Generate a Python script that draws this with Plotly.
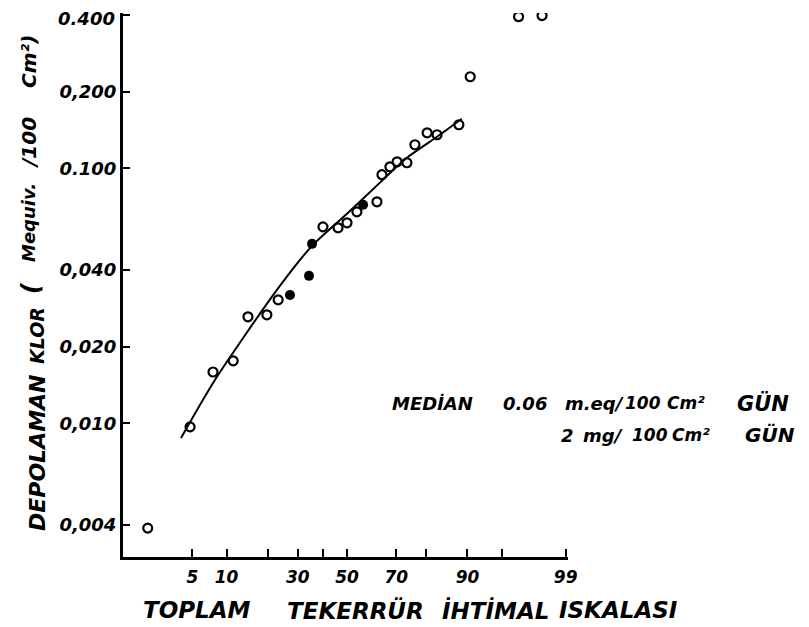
import plotly.graph_objects as go
from statistics import NormalDist

# ---- data (cumulative probability %, deposited chlorine meq/100 cm2) ----
open_p = [1.7, 4.75, 7.7, 11.3, 14.6, 19.7, 23.2, 39.9, 46.2, 50.0, 54.2, 62.5,
          64.5, 67.6, 70.3, 73.8, 76.5, 80.3, 83.1, 88.3, 90.5, 96.6, 98.1]
open_y = [0.00388, 0.00968, 0.0159, 0.01758, 0.02617, 0.02665, 0.0305, 0.059,
          0.0585, 0.0612, 0.0676, 0.074, 0.0945, 0.1015, 0.1062, 0.1053, 0.1239,
          0.138, 0.1356, 0.1484, 0.229, 0.394, 0.398]
filled_p = [27.2, 34.3, 35.5, 56.8]
filled_y = [0.0319, 0.0379, 0.0506, 0.0720]
fit_p = [3.87, 8.0, 22.8, 35.5, 50.0, 63.7, 73.8, 83.1, 88.9]
fit_y = [0.00876, 0.0148, 0.0334, 0.0497, 0.0664, 0.088, 0.1101, 0.1331, 0.1567]

x_tick_p = [5, 10, 20, 30, 40, 50, 70, 80, 90, 95, 99]
x_tick_text = ["5", "10", "", "30", "", "50", "70", "", "90", "", "99"]
y_tick_vals = [0.004, 0.01, 0.02, 0.04, 0.1, 0.2, 0.4]
y_tick_text = ["0,004", "0,010", "0,020", "0,040", "0.100", "0,200", ""]
top_tick_label = "0.400"

nd = NormalDist()
def probit(p):
    return nd.inv_cdf(p / 100.0)

FONT = dict(family="DejaVu Sans", color="black", weight="bold", style="italic")

# page offset (body margin) and plot-area geometry in window pixels
OFF = 8
W, H = 809 - OFF, 627 - OFF
L, R, T, B = 123, 568, 13, 557
def px(xpix):
    return (xpix - L) / (R - L)
def py(ypix):
    return (B - ypix) / (B - T)

fig = go.Figure()
fig.add_trace(go.Scatter(
    x=[probit(p) for p in fit_p], y=fit_y, mode="lines",
    line=dict(color="black", width=2, shape="spline", smoothing=0.7),
    hoverinfo="skip", showlegend=False))
fig.add_trace(go.Scatter(
    x=[probit(p) for p in open_p], y=open_y, mode="markers",
    marker=dict(symbol="circle-open", size=9, color="black", line=dict(width=2.2)),
    showlegend=False))
fig.add_trace(go.Scatter(
    x=[probit(p) for p in filled_p], y=filled_y, mode="markers",
    marker=dict(symbol="circle", size=10, color="black"),
    showlegend=False))

fig.update_xaxes(
    range=[-2.383, 2.351], showgrid=False, zeroline=False,
    showline=True, linecolor="black", linewidth=3,
    tickmode="array", tickvals=[probit(p) for p in x_tick_p], ticktext=x_tick_text,
    ticks="inside", ticklen=8, tickwidth=2, tickcolor="black",
    ticklabelstandoff=3, ticklabeloverflow="allow",
    tickfont=dict(size=17, **FONT))
fig.update_yaxes(
    type="log", range=[-2.5246, -0.39], showgrid=False, zeroline=False,
    showline=True, linecolor="black", linewidth=3,
    tickmode="array", tickvals=y_tick_vals, ticktext=y_tick_text,
    ticks="inside", ticklen=7, tickwidth=2, tickcolor="black",
    ticklabeloverflow="allow",
    tickfont=dict(size=18, **FONT))

# top y tick label (kept inside the page)
fig.add_annotation(text=top_tick_label, x=px(117), y=py(19), xanchor="right",
                   font=dict(size=18, **FONT))

# x-axis title words (text, center-x px), y=610
for txt, cx in [("TOPLAM", 197), ("TEKERRÜR", 355), ("İHTİMAL", 495), ("ISKALASI", 618)]:
    fig.add_annotation(text=txt, x=px(cx), y=py(610), xanchor="center",
                       font=dict(size=23, **FONT))

# y-axis title words (text, center-y px, center-x px, size)
for txt, cy, cx, sz in [("DEPOLAMAN", 453, 37, 22), ("KLOR", 336, 37, 19),
                        ("(", 288, 31, 24), ("Mequiv.", 223, 29, 18),
                        ("/100", 143, 29, 20), ("Cm²)", 62, 29, 20)]:
    fig.add_annotation(text=txt, x=px(cx), y=py(cy), textangle=-90,
                       xanchor="center", font=dict(size=sz, **FONT))

# median note
for txt, cx, cy, sz in [("MEDİAN", 432, 403, 18), ("0.06", 525, 403, 18),
                        ("m.eq/", 594, 403, 18), ("100", 643, 403, 17),
                        ("Cm²", 686, 403, 17), ("GÜN", 763, 403, 21),
                        ("2", 567, 435, 18), ("mg/", 603, 435, 18),
                        ("100", 650, 435, 17), ("Cm²", 691, 435, 17),
                        ("GÜN", 770, 435, 20)]:
    fig.add_annotation(text=txt, x=px(cx), y=py(cy), xanchor="center",
                       font=dict(size=sz, **FONT))

fig.update_annotations(xref="paper", yref="paper", showarrow=False,
                       yanchor="middle")

fig.update_layout(
    width=W, height=H,
    margin=dict(l=L - OFF, r=W - (R - OFF), t=T - OFF, b=H - (B - OFF),
                autoexpand=False),
    paper_bgcolor="white", plot_bgcolor="white",
)
fig.write_html("out.html")
